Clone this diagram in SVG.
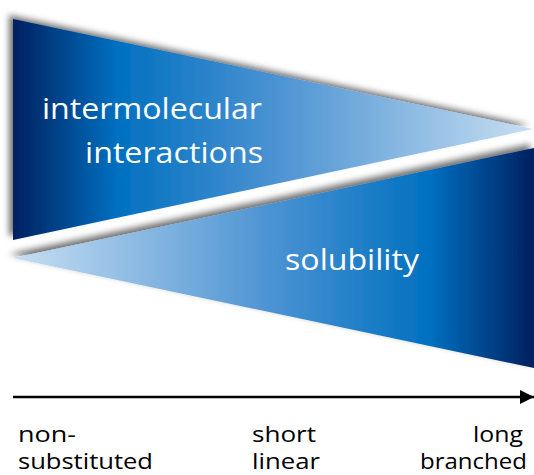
<svg xmlns="http://www.w3.org/2000/svg" width="534" height="475" viewBox="0 0 534 475">
<style>
.lbl{font-family:"Open Sans","Liberation Sans",sans-serif;fill:#ffffff}
.ax{font-family:"Open Sans","Liberation Sans",sans-serif;fill:#000000;font-size:22px}
</style>
<defs>
<linearGradient id="gUp" gradientUnits="userSpaceOnUse" x1="13" y1="0" x2="533" y2="0">
<stop offset="0" stop-color="#002060"/>
<stop offset="0.2" stop-color="#0070c0"/>
<stop offset="0.5" stop-color="#4a92d2"/>
<stop offset="1" stop-color="#c8dff2"/>
</linearGradient>
<linearGradient id="gLo" gradientUnits="userSpaceOnUse" x1="13" y1="0" x2="534" y2="0">
<stop offset="0" stop-color="#c8dff2"/>
<stop offset="0.5" stop-color="#4a92d2"/>
<stop offset="0.8" stop-color="#0070c0"/>
<stop offset="1" stop-color="#002060"/>
</linearGradient>
<filter id="sh" x="-10%" y="-10%" width="120%" height="120%">
<feDropShadow dx="-4" dy="-4" stdDeviation="3" flood-color="#000" flood-opacity="0.55"/>
</filter>
<marker id="ah" viewBox="0 0 14 14" refX="14" refY="7" markerWidth="14" markerHeight="14" markerUnits="userSpaceOnUse" orient="auto">
<path d="M0,0 L14,7 L0,14 Z" fill="#000"/>
</marker>
</defs>
<g id="upper">
<polygon points="13,19 533,129 13,240" fill="url(#gUp)" filter="url(#sh)"/>
<text class="lbl" x="42" y="119" font-size="30" textLength="220" lengthAdjust="spacingAndGlyphs">intermolecular</text>
<text class="lbl" x="85" y="163" font-size="30" textLength="178" lengthAdjust="spacingAndGlyphs">interactions</text>
</g>
<g id="lower">
<polygon points="13,258 534,148 534,368" fill="url(#gLo)" filter="url(#sh)"/>
<text class="lbl" x="285" y="270" font-size="30" textLength="134" lengthAdjust="spacingAndGlyphs">solubility</text>
</g>
<g id="connectors">
<line x1="13" y1="397" x2="534" y2="397" stroke="#000" stroke-width="2.5" marker-end="url(#ah)"/>
</g>
<g id="labels">
<text class="ax" x="18" y="442" textLength="58" lengthAdjust="spacingAndGlyphs">non-</text>
<text class="ax" x="18" y="469" textLength="135" lengthAdjust="spacingAndGlyphs">substituted</text>
<text class="ax" x="252" y="442" textLength="64" lengthAdjust="spacingAndGlyphs">short</text>
<text class="ax" x="252" y="469" textLength="68" lengthAdjust="spacingAndGlyphs">linear</text>
<text class="ax" x="523" y="442" text-anchor="end" textLength="50" lengthAdjust="spacingAndGlyphs">long</text>
<text class="ax" x="527" y="469" text-anchor="end" textLength="107" lengthAdjust="spacingAndGlyphs">branched</text>
</g>
</svg>
